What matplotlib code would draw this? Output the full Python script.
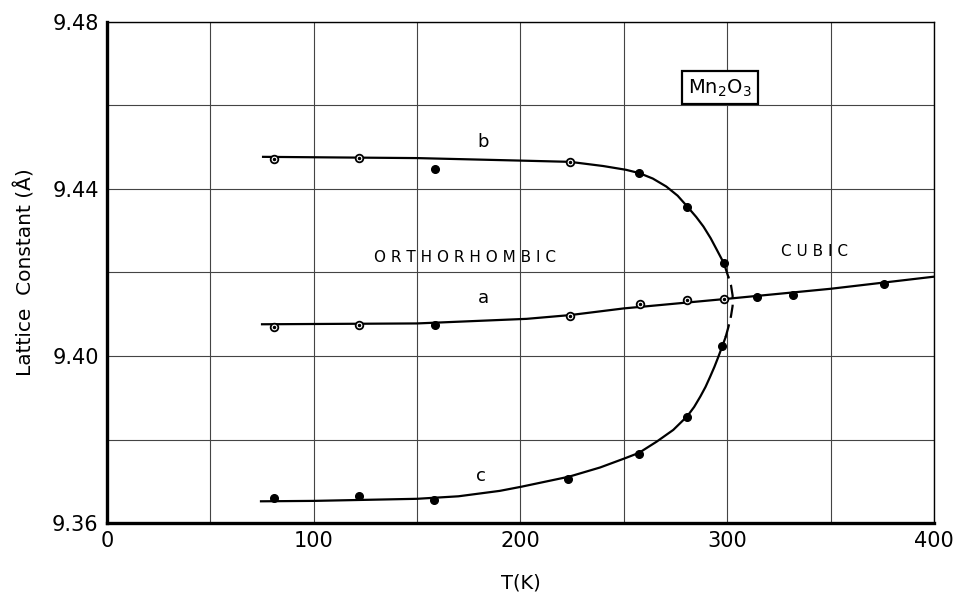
import numpy as np
import matplotlib
matplotlib.use('Agg')
from matplotlib import pyplot as plt

# measured points (T in K, lattice constant in Angstrom)
b_T = [81, 122, 158.5, 224, 257.5, 280.5, 298.5]
b_val = [9.4472, 9.4474, 9.4448, 9.4465, 9.4438, 9.4358, 9.4223]
b_open = [True, True, False, True, False, False, False]

a_T = [81, 122, 158.5, 224, 258, 280.5, 298.5, 314.5, 332, 376]
a_val = [9.4070, 9.4075, 9.4075, 9.4097, 9.4125, 9.4134, 9.4137, 9.4141, 9.4147, 9.4172]
a_open = [True, True, False, True, True, True, True, False, False, False]

c_T = [81, 122, 158, 223, 257.5, 280.5, 297.5]
c_val = [9.3659, 9.3665, 9.3656, 9.3705, 9.3765, 9.3855, 9.4024]

# hand-drawn curves
b_fit_T = [75.5, 100, 150, 200, 224, 240, 251, 257.5, 264, 270.5, 276, 280.5,
           285, 288.5, 292, 295, 298.4, 300.5]
b_fit_val = [9.4477, 9.4476, 9.4474, 9.4468, 9.4465, 9.4455, 9.4446, 9.4438, 9.4425,
             9.4406, 9.4384, 9.4359, 9.4333, 9.4310, 9.4282, 9.4254, 9.4222, 9.4190]
a_fit_T = [75, 150, 203, 224, 250, 300, 350, 400]
a_fit_val = [9.4076, 9.4078, 9.4089, 9.4098, 9.4114, 9.4137, 9.4161, 9.4190]
c_fit_T = [74.5, 100, 150, 170, 190, 200.5, 223.5, 238.5, 250.5, 257.3, 265.9,
           273.9, 280.7, 284, 287, 289.5, 291.7, 293.8, 295.7, 297.8, 299.2]
c_fit_val = [9.3652, 9.3653, 9.3658, 9.3664, 9.3677, 9.3687, 9.3711, 9.3733, 9.3755,
             9.3768, 9.3795, 9.3823, 9.3856, 9.3878, 9.3903, 9.3926, 9.3950, 9.3974,
             9.3998, 9.4026, 9.4045]
dash_T = [299.2, 300.6, 301.8, 302.6, 302.6, 301.8, 300.5]
dash_val = [9.4045, 9.4070, 9.4095, 9.4120, 9.4145, 9.4170, 9.4190]

plt.rcParams['font.family'] = ['DejaVu Sans']

fig = plt.figure(figsize=(9.55, 5.94), dpi=100)
ax = fig.add_axes([0.112, 0.1195, 0.866, 0.8435])

ax.plot(b_fit_T, b_fit_val, color='black', lw=1.6, solid_joinstyle='round')
ax.plot(a_fit_T, a_fit_val, color='black', lw=1.6, solid_joinstyle='round')
ax.plot(c_fit_T, c_fit_val, color='black', lw=1.6, solid_joinstyle='round')
ax.plot(dash_T, dash_val, color='black', lw=1.6, dashes=(6, 3))

def draw_points(T, val, opens):
    for t, v, o in zip(T, val, opens):
        if o:
            ax.plot(t, v, 'o', ms=5.5, mfc='white', mec='black', mew=1.3, zorder=5)
            ax.plot(t, v, 'o', ms=1.5, color='black', zorder=6)
        else:
            ax.plot(t, v, 'o', ms=5.5, color='black', zorder=5)

draw_points(b_T, b_val, b_open)
draw_points(a_T, a_val, a_open)
draw_points(c_T, c_val, [False] * len(c_T))

ax.set_xlim(0, 400)
ax.set_ylim(9.36, 9.48)
ax.set_xticks(np.arange(0, 401, 50), minor=True)
ax.set_yticks(np.arange(9.36, 9.481, 0.02), minor=True)
ax.set_xticks([0, 100, 200, 300, 400])
ax.set_xticklabels(['0', '100', '200', '300', '400'])
ax.set_yticks([9.36, 9.40, 9.44, 9.48])
ax.set_yticklabels(['9.36', '9.40', '9.44', '9.48'])
ax.grid(True, which='both', color='#444444', lw=0.8)
ax.tick_params(which='both', length=0, labelsize=15, pad=6)
ax.set_axisbelow(True)

for side in ['left', 'bottom']:
    ax.spines[side].set_linewidth(2.4)
for side in ['top', 'right']:
    ax.spines[side].set_linewidth(1.0)

ax.set_xlabel('T(K)', fontsize=14, labelpad=16)
ax.set_ylabel('Lattice  Constant (Å)', fontsize=14.5, labelpad=12)

ax.text(182, 9.4513, 'b', fontsize=13, ha='center', va='center')
ax.text(182, 9.4140, 'a', fontsize=13, ha='center', va='center')
ax.text(181, 9.3713, 'c', fontsize=13, ha='center', va='center')
ax.text(173, 9.4235, 'O R T H O R H O M B I C', fontsize=11, ha='center', va='center')
ax.text(342, 9.4250, 'C U B I C', fontsize=11, ha='center', va='center')
ax.text(296.5, 9.4642, r'Mn$_2$O$_3$', fontsize=14, ha='center', va='center',
        bbox=dict(boxstyle='square,pad=0.3', fc='white', ec='black', lw=1.6))

plt.savefig('out.png', dpi=100)
